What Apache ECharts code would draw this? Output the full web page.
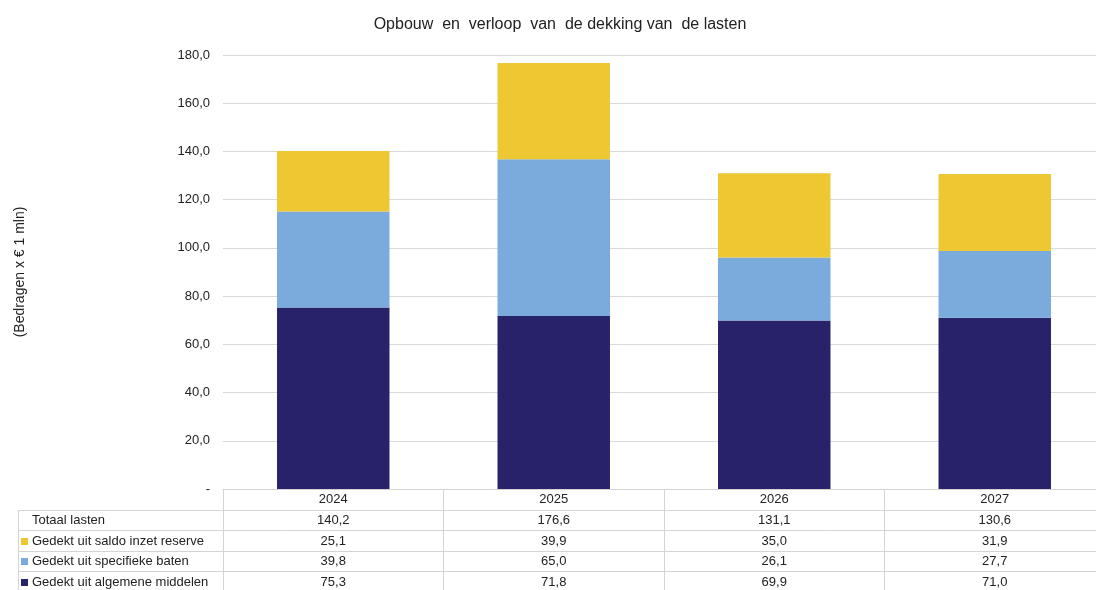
<!DOCTYPE html>
<html>
<head>
<meta charset="utf-8">
<script src="https://cdn.jsdelivr.net/npm/echarts@6/dist/echarts.min.js"></script>
<style>
  html, body { margin: 0; padding: 0; background: #fff; }
  #chart { width: 1096px; height: 590px; }
</style>
</head>
<body>
<div id="chart"></div>
<script>
const titleText = 'Opbouw  en  verloop  van  de dekking van  de lasten';
const yAxisName = '(Bedragen x € 1 mln)';
const categories = ['2024', '2025', '2026', '2027'];
const algemeneMiddelen = [75.3, 71.8, 69.9, 71.0];
const specifiekeBaten = [39.8, 65.0, 26.1, 27.7];
const saldoReserve = [25.1, 39.9, 35.0, 31.9];
const totaalLasten = [140.2, 176.6, 131.1, 130.6];
const seriesNames = ['Gedekt uit algemene middelen', 'Gedekt uit specifieke baten', 'Gedekt uit saldo inzet reserve'];
const totalName = 'Totaal lasten';
const colors = ['#27226a', '#7aabdc', '#eec832'];

const fmt = v => v.toFixed(1).replace('.', ',');
const FONT = '"Liberation Sans", Arial, sans-serif';
const ROW_H = 20.6;

const chart = echarts.init(document.getElementById('chart'), null, { renderer: 'canvas' });

// Table rows (top to bottom) under the header
const tableRows = [
  { name: totalName, values: totaalLasten, color: null },
  { name: seriesNames[2], values: saldoReserve, color: colors[2] },
  { name: seriesNames[1], values: specifiekeBaten, color: colors[1] },
  { name: seriesNames[0], values: algemeneMiddelen, color: colors[0] }
];

const option = {
  animation: false,
  backgroundColor: '#fff',
  title: {
    text: titleText,
    left: 555, top: 12, textAlign: 'center',
    textStyle: { fontFamily: FONT, fontSize: 16, fontWeight: 'normal', color: '#222' }
  },
  grid: { left: 223, top: 55, width: 882, height: 434, containLabel: false, outerBoundsMode: 'none' },
  xAxis: {
    type: 'category',
    data: categories,
    boundaryGap: true,
    axisLine: { show: true, lineStyle: { color: '#d4d4d4', width: 1 } },
    axisTick: { show: true, alignWithLabel: false, length: 102, lineStyle: { color: '#d4d4d4', width: 1 } },
    axisLabel: {
      margin: 0.5,
      interval: 0,
      fontFamily: FONT, fontSize: 13, color: '#222',
      lineHeight: ROW_H,
      formatter: (val, idx) => [val].concat(tableRows.map(r => fmt(r.values[idx]))).join('\n')
    }
  },
  yAxis: {
    type: 'value',
    min: 0, max: 180, interval: 20,
    name: yAxisName,
    nameLocation: 'middle',
    nameRotate: 90,
    nameGap: 196,
    nameTextStyle: { fontFamily: FONT, fontSize: 14, color: '#222' },
    axisLine: { show: false },
    axisTick: { show: false },
    axisLabel: {
      margin: 13,
      fontFamily: FONT, fontSize: 13, color: '#222',
      formatter: v => v === 0 ? '-' : fmt(v)
    },
    splitLine: { show: true, lineStyle: { color: '#d9d9d9', width: 1 } }
  },
  series: [
    { name: seriesNames[0], type: 'bar', stack: 'total', data: algemeneMiddelen, barWidth: '51%', itemStyle: { color: colors[0] } },
    { name: seriesNames[1], type: 'bar', stack: 'total', data: specifiekeBaten, barWidth: '51%', itemStyle: { color: colors[1] } },
    { name: seriesNames[2], type: 'bar', stack: 'total', data: saldoReserve, barWidth: '51%', itemStyle: { color: colors[2] } }
  ]
};
chart.setOption(option);

// Table decorations: horizontal rules, row labels and legend keys
const baseY = chart.convertToPixel({ yAxisIndex: 0 }, 0);
const tableLeft = 18;
const graphics = [];
for (let i = 1; i <= tableRows.length; i++) {
  const y = Math.round(baseY + ROW_H * i) + 0.5;
  graphics.push({ type: 'line', shape: { x1: tableLeft, y1: y, x2: 1096, y2: y }, style: { stroke: '#d4d4d4', lineWidth: 1 }, silent: true });
}
graphics.push({ type: 'line', shape: { x1: tableLeft + 0.5, y1: Math.round(baseY + ROW_H) + 0.5, x2: tableLeft + 0.5, y2: 590 }, style: { stroke: '#d4d4d4', lineWidth: 1 }, silent: true });
tableRows.forEach((r, i) => {
  const cy = baseY + ROW_H * (i + 1) + ROW_H / 2 + 0.5;
  if (r.color) {
    graphics.push({ type: 'rect', shape: { x: 21, y: Math.round(cy - 3.5), width: 7, height: 7 }, style: { fill: r.color }, silent: true });
  }
  graphics.push({ type: 'text', x: 32, y: cy, style: { text: r.name, font: '13px ' + FONT, fill: '#222', textVerticalAlign: 'middle', textAlign: 'left' }, silent: true });
});
chart.setOption({ graphic: graphics });
</script>
</body>
</html>
